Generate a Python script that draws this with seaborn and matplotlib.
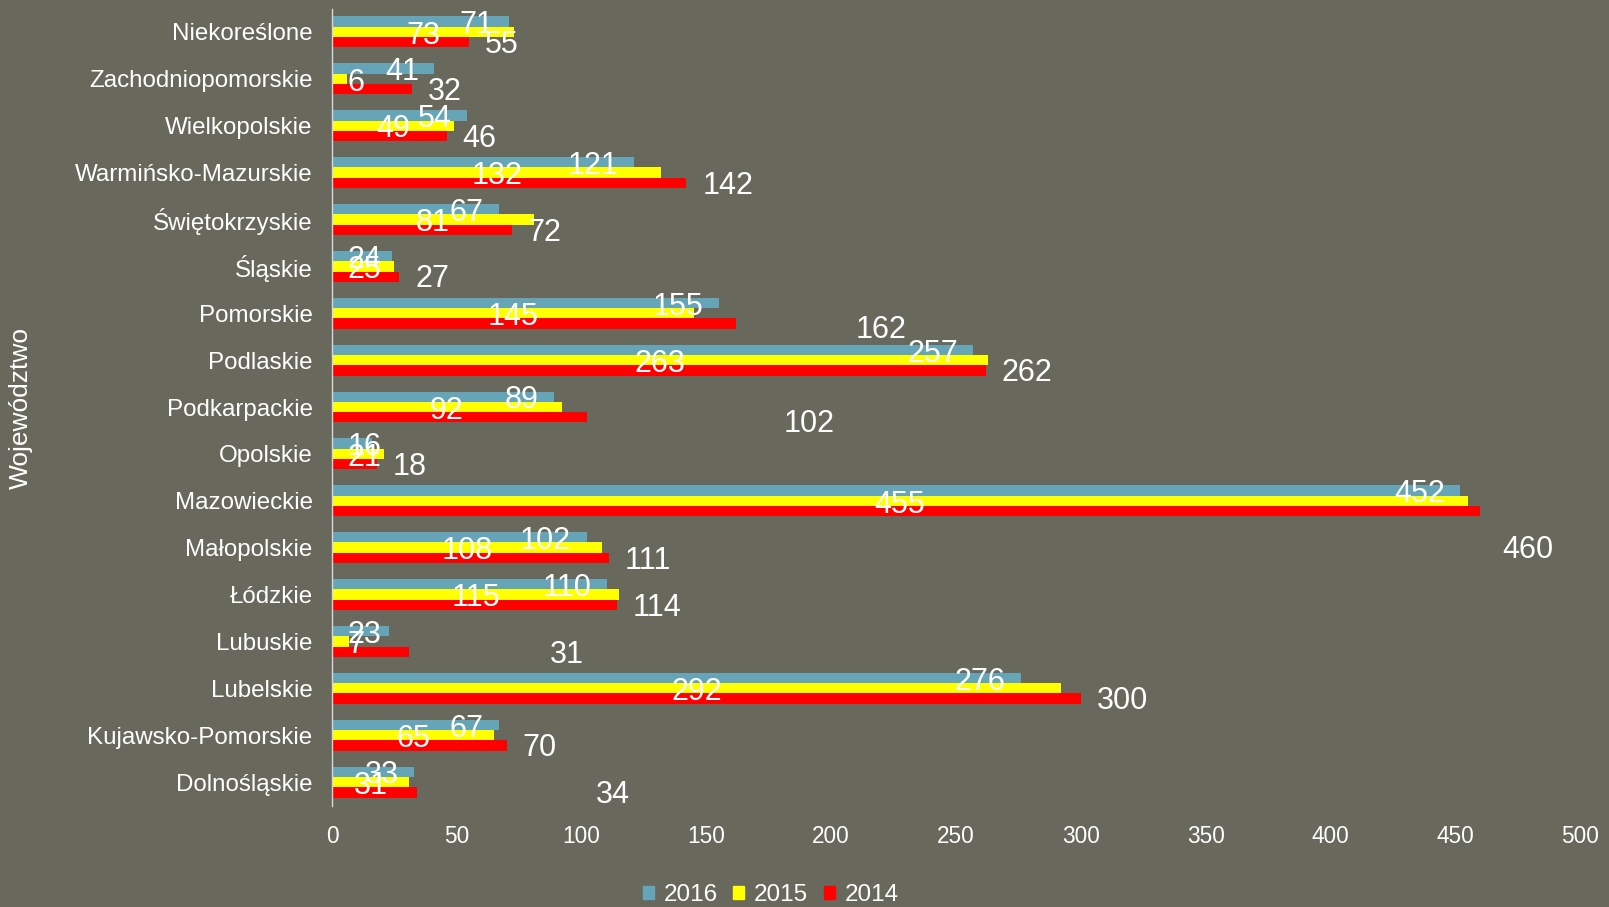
import matplotlib
matplotlib.use("Agg")
import matplotlib.pyplot as plt
import seaborn as sns
import pandas as pd

categories = ["Niekoreślone", "Zachodniopomorskie", "Wielkopolskie", "Warmińsko-Mazurskie",
              "Świętokrzyskie", "Śląskie", "Pomorskie", "Podlaskie", "Podkarpackie", "Opolskie",
              "Mazowieckie", "Małopolskie", "Łódzkie", "Lubuskie", "Lubelskie",
              "Kujawsko-Pomorskie", "Dolnośląskie"]
v2016 = [71, 41, 54, 121, 67, 24, 155, 257, 89, 16, 452, 102, 110, 23, 276, 67, 33]
v2015 = [73, 6, 49, 132, 81, 25, 145, 263, 92, 21, 455, 108, 115, 7, 292, 65, 31]
v2014 = [55, 32, 46, 142, 72, 27, 162, 262, 102, 18, 460, 111, 114, 31, 300, 70, 34]
series = ["2016", "2015", "2014"]
xticks = [0, 50, 100, 150, 200, 250, 300, 350, 400, 450, 500]

# layout-only: extra displacement of the 2014 data labels (x in data units, y in category units)
shift14_x = [0, 0, 0, 0, 0, 0, 41.5, 0, 72.8, 0, 2.5, 0, 0, 49.8, 0, 0, 65.4]
shift14_y = [0, 0, 0, 0, 0, 0, 0.07, 0, 0.09, 0, 0.77, 0, 0, 0, 0, 0, 0]

BG = "#68685C"
colors = {"2016": "#66A5B8", "2015": "#FFFF00", "2014": "#FF0000"}

df = pd.DataFrame({
    "cat": categories * 3,
    "year": ["2016"] * len(categories) + ["2015"] * len(categories) + ["2014"] * len(categories),
    "val": v2016 + v2015 + v2014,
})

sns.set_style("white")
plt.rcParams["font.family"] = ["Liberation Sans", "DejaVu Sans"]

fig = plt.figure(figsize=(16.09, 9.07), dpi=100, facecolor=BG)
ax = fig.add_axes([332 / 1609, 1 - 805.5 / 907, (1580 - 332) / 1609, (805.5 - 8.5) / 907])
ax.set_facecolor(BG)

sns.barplot(data=df, y="cat", x="val", hue="year", hue_order=series, order=categories,
            palette=colors, orient="h", width=0.66, saturation=1, ax=ax, legend=True,
            edgecolor="none", linewidth=0)

ax.set_xlim(0, 500)
ax.set_xticks(xticks)
ax.set_xticklabels([str(t) for t in xticks])
ax.set_xlabel("")
ax.set_ylabel("")
ax.tick_params(axis="x", length=0, pad=14, labelsize=16.3, colors="white")
ax.tick_params(axis="y", length=0, pad=14, labelsize=17.4, colors="white")
for s in ["top", "right", "bottom"]:
    ax.spines[s].set_visible(False)
ax.spines["left"].set_color("#D8D8D8")
ax.spines["left"].set_linewidth(1.0)

lab_fs = 22
dig_w = 7.0  # approx width of one digit in data units
min_left = 6.3
dy = 0.08

containers = ax.containers
vals = [v2016, v2015, v2014]
for si, cont in enumerate(containers[:3]):
    for i, bar in enumerate(cont.patches):
        v = vals[si][i]
        yc = bar.get_y() + bar.get_height() / 2 + dy
        w = len(str(v)) * dig_w
        if si == 0:
            xr = v - 6.2
            if xr - w < min_left:
                ax.text(min_left, yc, str(v), ha="left", va="center", color="white", fontsize=lab_fs)
            else:
                ax.text(xr, yc, str(v), ha="right", va="center", color="white", fontsize=lab_fs)
        elif si == 1:
            xc = v / 2
            if xc - w / 2 < min_left:
                ax.text(min_left, yc, str(v), ha="left", va="center", color="white", fontsize=lab_fs)
            else:
                ax.text(xc, yc, str(v), ha="center", va="center", color="white", fontsize=lab_fs)
        else:
            ax.text(v + 6.3 + shift14_x[i], yc - 0.02 + shift14_y[i], str(v), ha="left",
                    va="center", color="white", fontsize=lab_fs)

ax.set_ylim(len(categories) - 0.5, -0.5)

leg = ax.get_legend()
if leg is not None:
    leg.remove()
handles = [plt.Rectangle((0, 0), 1, 1, color=colors[s]) for s in series]
fig.legend(handles, series, loc="center", bbox_to_anchor=(0.479, 1 - 895 / 907), ncol=3,
           frameon=False, fontsize=17.5, labelcolor="white", handlelength=0.45, handleheight=0.45,
           handletextpad=0.4, columnspacing=0.65, borderpad=0)

fig.text(20.5 / 1609, 1 - 408 / 907, "Województwo", rotation=90, ha="center", va="center",
         color="white", fontsize=19)

fig.savefig("out.png", dpi=100, facecolor=BG)
